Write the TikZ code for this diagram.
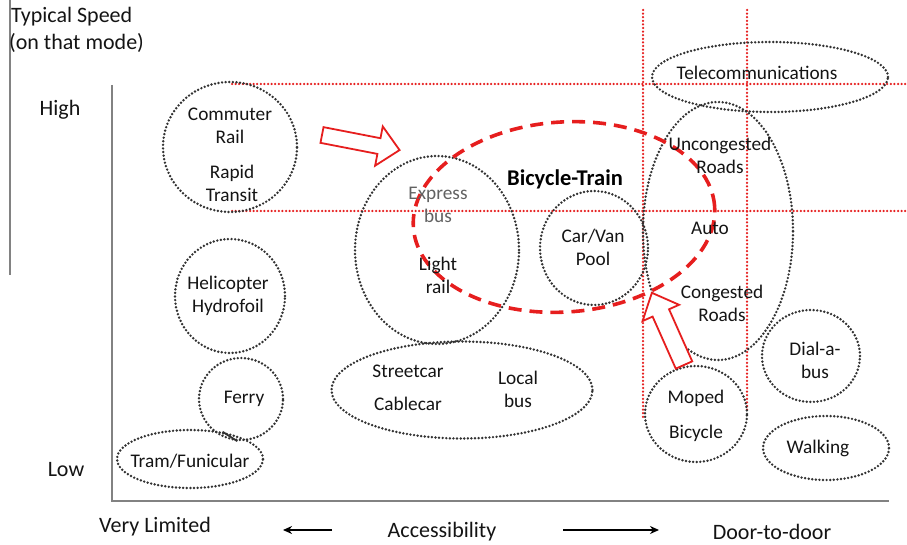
\documentclass[tikz,border=0pt]{standalone}
\usepackage{fontspec}
\setmainfont{Carlito}
\usetikzlibrary{shapes.geometric,arrows.meta}
\definecolor{dotgray}{RGB}{50,50,50}
\definecolor{axgray}{RGB}{130,130,130}
\definecolor{rred}{RGB}{230,30,30}
\begin{document}
\begin{tikzpicture}[x=1pt,y=-1pt,
  oval/.style={ellipse, draw=dotgray, line width=2.7pt, dash pattern=on 0pt off 3.6pt, line cap=round, inner sep=0pt},
  lbl/.style={font=\fontsize{19.3}{23}\selectfont, align=center, inner sep=0pt, text=black!92},
  axlbl/.style={font=\fontsize{22}{26}\selectfont, inner sep=0pt, text=black!92},
  reddot/.style={draw=rred, line width=2.5pt, dash pattern=on 0pt off 3.6pt, line cap=round},
  blockarrow/.style={draw=rred, line width=1.8pt, fill=white, line join=miter},
  axisline/.style={draw=axgray, line width=1.6pt}]
\useasboundingbox (0,0) rectangle (907,545);

% left border line and axes
\coordinate (lt) at (10,0); \coordinate (lb) at (10,275);
\draw[axisline] (lt) -- (lb);
\coordinate (ytop) at (112,85); \coordinate (orig) at (112,501); \coordinate (xend) at (889,501);
\draw[axisline] (ytop) -- (orig) -- (xend);

% axis labels
\node[axlbl, anchor=west] (ts) at (11,17) {Typical Speed};
\node[axlbl, anchor=west] (om) at (9,43) {(on that mode)};
\node[axlbl] (high) at (60,110) {High};
\node[axlbl] (low) at (66,470) {Low};
\node[axlbl] (vl) at (155,527) {Very Limited};
\node[axlbl] (acc) at (442,532) {Accessibility};
\node[axlbl] (dd) at (772,532) {Door-to-door};
\coordinate (al1) at (332,530); \coordinate (al2) at (283,530);
\coordinate (ar1) at (563,530); \coordinate (ar2) at (659,530);
\draw[line width=2.2pt, -{Stealth[length=9pt,width=8pt]}] (al1) -- (al2);
\draw[line width=2.2pt, -{Stealth[length=9pt,width=8pt]}] (ar1) -- (ar2);

% red dotted grid lines
\coordinate (h1a) at (232,84); \coordinate (h1b) at (907,84);
\coordinate (h2a) at (232,211); \coordinate (h2b) at (907,211);
\coordinate (v1a) at (643,10); \coordinate (v1b) at (643,418);
\coordinate (v2a) at (747,10); \coordinate (v2b) at (747,412);
\draw[reddot] (h1a) -- (h1b);
\draw[reddot] (h2a) -- (h2b);
\draw[reddot] (v1a) -- (v1b);
\draw[reddot] (v2a) -- (v2b);

% dotted ovals
\node[oval, minimum width=134, minimum height=130] (cr) at (230,147) {};
\node[oval, minimum width=110, minimum height=114] (heli) at (230,296) {};
\node[oval, minimum width=84, minimum height=82] (ferry) at (241,399) {};
\node[oval, minimum width=146, minimum height=58] (tram) at (190,459) {};
\node[oval, minimum width=261, minimum height=97] (street) at (462,390) {};
\node[oval, minimum width=164, minimum height=188] (exp) at (437,250) {};
\node[oval, minimum width=108, minimum height=114] (car) at (594,248) {};
\node[oval, minimum width=236, minimum height=70] (tele) at (770,77) {};
\node[oval, minimum width=150, minimum height=258] (auto) at (718,231) {};
\node[oval, minimum width=98, minimum height=92] (dial) at (811,356) {};
\node[oval, minimum width=102, minimum height=96] (moped) at (696,414) {};
\node[oval, minimum width=126, minimum height=64] (walk) at (826,448) {};
\draw[line width=1.8pt, black!80] (tram.40) -- (ferry.-95);

% Bicycle-Train dashed ellipse
\node[ellipse, draw=rred, line width=3.6pt, dash pattern=on 13pt off 8pt, inner sep=0pt,
      minimum width=302, minimum height=190, rotate=4] (bt) at (564,217) {};

% block arrows
\begin{scope}[shift={(322,135)}, rotate=-11]
  \draw[blockarrow] (0,-8) -- (58,-8) -- (58,-20) -- (79,0) -- (58,20) -- (58,8) -- (0,8) -- cycle;
\end{scope}
\begin{scope}[shift={(684,365)}, rotate=114]
  \draw[blockarrow] (0,-9) -- (57,-9) -- (57,-20) -- (79,0) -- (57,20) -- (57,9) -- (0,9) -- cycle;
\end{scope}

% labels
\node[lbl] (t1) at (230,126) {Commuter\\Rail};
\node[lbl] (t2) at (232,183) {Rapid\\Transit};
\node[lbl] (t3) at (228,296) {Helicopter\\Hydrofoil};
\node[lbl] (t4) at (244,399) {Ferry};
\node[lbl] (t5) at (190,461) {Tram/Funicular};
\node[lbl] (t6) at (408,371) {Streetcar};
\node[lbl] (t7) at (408,404) {Cablecar};
\node[lbl] (t8) at (518,389) {Local\\bus};
\node[lbl, text=black!62] (t9) at (438,205) {Express\\bus};
\node[lbl] (t10) at (438,275) {Light\\rail};
\node[font=\bfseries\fontsize{22.5}{26}\selectfont, inner sep=0pt] (t11) at (565,179) {Bicycle-Train};
\node[lbl] (t12) at (593,247) {Car/Van\\Pool};
\node[lbl] (t13) at (757,73) {Telecommunications};
\node[lbl] (t14) at (720,155) {Uncongested\\Roads};
\node[lbl] (t15) at (710,228) {Auto};
\node[lbl] (t16) at (722,303) {Congested\\Roads};
\node[lbl] (t17) at (815,360) {Dial-a-\\bus};
\node[lbl] (t18) at (696,398) {Moped};
\node[lbl] (t19) at (696,433) {Bicycle};
\node[lbl] (t20) at (818,448) {Walking};
\end{tikzpicture}
\end{document}
